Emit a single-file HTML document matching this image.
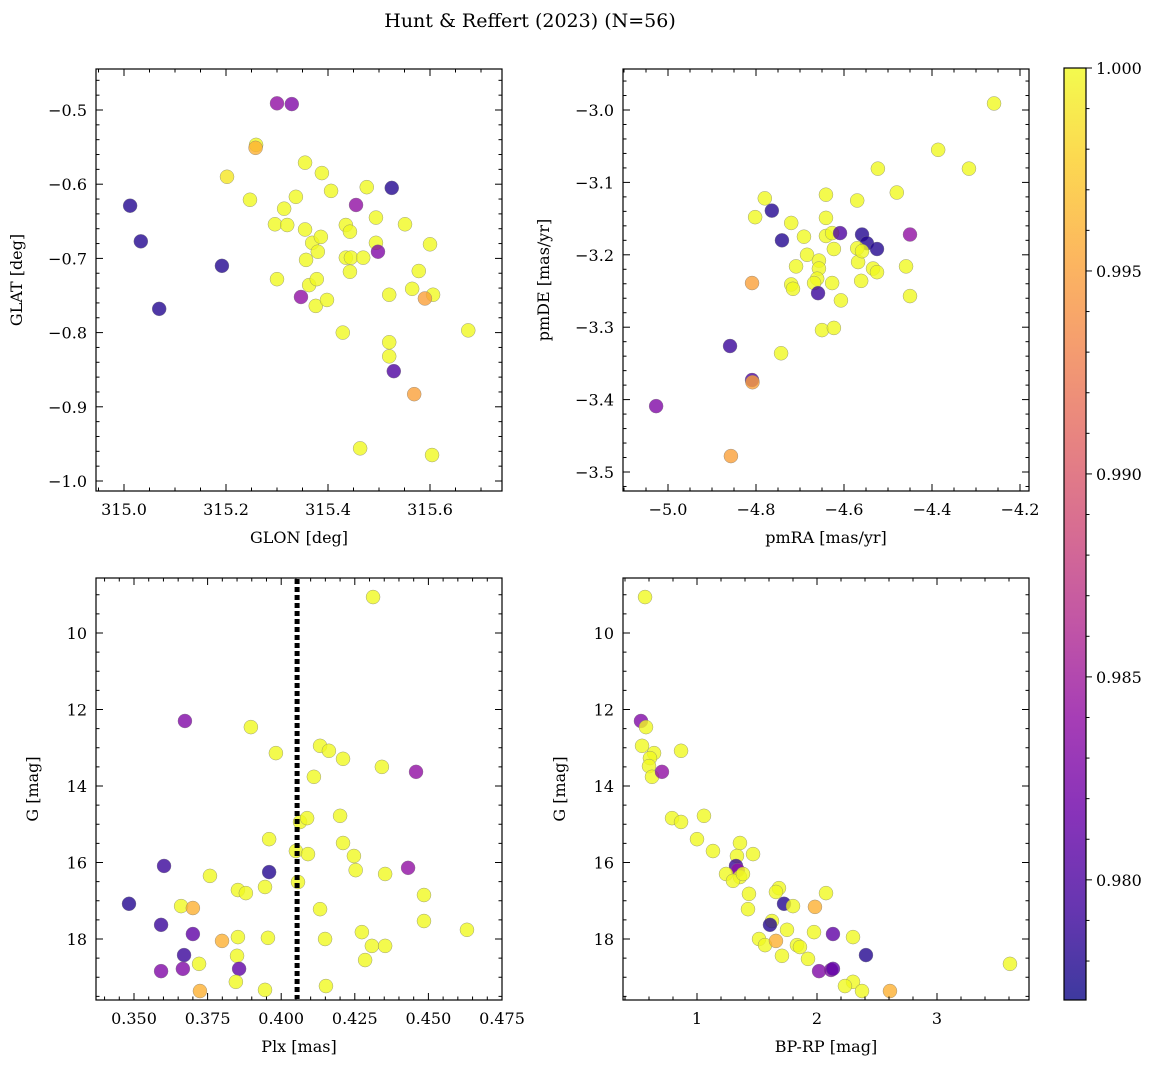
<!DOCTYPE html>
<html><head><meta charset="utf-8">
<style>
html,body{margin:0;padding:0;background:#fff;}
svg{display:block;font-family:"DejaVu Serif","Liberation Serif",serif;}
</style></head>
<body>
<svg id="fig" width="1161" height="1068" viewBox="0 0 1161 1068" xmlns="http://www.w3.org/2000/svg">
<defs>
<linearGradient id="plasma" x1="0" y1="1" x2="0" y2="0">
<stop offset="0" stop-color="#0d0887"/><stop offset="0.1" stop-color="#41049d"/><stop offset="0.2" stop-color="#6a00a8"/><stop offset="0.3" stop-color="#8f0da4"/><stop offset="0.4" stop-color="#b12a90"/><stop offset="0.5" stop-color="#cc4778"/><stop offset="0.6" stop-color="#e16462"/><stop offset="0.7" stop-color="#f2844b"/><stop offset="0.8" stop-color="#fca636"/><stop offset="0.9" stop-color="#fcce25"/><stop offset="1" stop-color="#f0f921"/>
</linearGradient>
</defs>
<text x="530" y="27" text-anchor="middle" font-size="19">Hunt &amp; Reffert (2023) (N=56)</text>
</svg>
<script>
// ---- Panel 1: GLON vs GLAT ----
const p1x=[315.300,315.329,315.259,315.258,315.202,315.012,315.033,315.069,315.192,315.355,315.388,315.406,315.247,315.314,315.337,315.296,315.320,315.355,315.369,315.386,315.357,315.380,315.300,315.363,315.378,315.376,315.398,315.429,315.435,315.443,315.435,315.445,315.443,315.469,315.455,315.476,315.525,315.494,315.494,315.498,315.551,315.578,315.600,315.565,315.520,315.606,315.590,315.347,315.520,315.520,315.529,315.569,315.463,315.604,315.675];
const p1y=[-0.491,-0.492,-0.547,-0.551,-0.590,-0.629,-0.677,-0.768,-0.710,-0.571,-0.585,-0.609,-0.621,-0.633,-0.617,-0.654,-0.655,-0.661,-0.679,-0.671,-0.702,-0.691,-0.728,-0.736,-0.728,-0.764,-0.756,-0.800,-0.655,-0.664,-0.699,-0.699,-0.718,-0.699,-0.628,-0.604,-0.605,-0.645,-0.679,-0.691,-0.654,-0.717,-0.681,-0.741,-0.749,-0.749,-0.754,-0.752,-0.813,-0.832,-0.852,-0.883,-0.956,-0.965,-0.797];
const p1c=[0.984,0.983,1,0.996,0.999,0.978,0.978,0.978,0.978,1,1,1,1,1,1,1,1,1,1,1,1,1,1,1,1,1,1,1,1,1,1,1,1,1,0.984,1,0.978,1,1,0.983,1,1,1,1,1,1,0.995,0.984,1,1,0.980,0.995,1,1,1];
// ---- Panel 2: pmRA vs pmDE ----
const p2x=[-4.259,-4.386,-4.316,-4.523,-4.480,-4.780,-4.764,-4.570,-4.641,-4.720,-4.691,-4.741,-4.641,-4.641,-4.627,-4.623,-4.609,-4.559,-4.548,-4.525,-4.450,-4.570,-4.568,-4.559,-4.561,-4.534,-4.525,-4.459,-4.450,-4.684,-4.709,-4.657,-4.657,-4.661,-4.668,-4.659,-4.627,-4.607,-4.650,-4.623,-4.802,-4.809,-4.720,-4.716,-4.809,-4.808,-4.743,-4.859,-4.857,-5.027];
const p2y=[-2.991,-3.055,-3.081,-3.081,-3.114,-3.122,-3.139,-3.125,-3.117,-3.156,-3.175,-3.180,-3.149,-3.174,-3.170,-3.192,-3.170,-3.172,-3.184,-3.192,-3.172,-3.191,-3.210,-3.195,-3.236,-3.219,-3.224,-3.216,-3.257,-3.200,-3.216,-3.208,-3.219,-3.233,-3.239,-3.253,-3.239,-3.263,-3.304,-3.301,-3.148,-3.239,-3.241,-3.247,-3.373,-3.376,-3.336,-3.326,-3.478,-3.409];
const p2c=[1,1,1,1,1,1,0.978,1,1,1,1,0.978,1,1,1,1,0.980,0.978,0.978,0.978,0.984,1,1,1,1,1,1,1,1,1,1,1,1,1,1,0.979,1,1,1,1,1,0.995,1,1,0.980,0.995,1,0.979,0.995,0.983];
// ---- Panel 3: Plx vs G ----
const p3x=[0.4312,0.3673,0.3897,0.3982,0.4132,0.4162,0.4210,0.4111,0.4342,0.4458,0.4064,0.4088,0.4200,0.4210,0.3959,0.4050,0.4091,0.4247,0.4253,0.4353,0.4431,0.4485,0.4485,0.4631,0.3602,0.3959,0.4057,0.3758,0.3853,0.3880,0.3945,0.3660,0.3700,0.3483,0.4132,0.3592,0.3700,0.3853,0.3799,0.3955,0.4149,0.4274,0.4308,0.4353,0.3670,0.3850,0.4285,0.3721,0.3592,0.3666,0.3857,0.3846,0.3724,0.3945,0.4152];
const p3y=[9.06,12.30,12.46,13.14,12.95,13.08,13.29,13.76,13.50,13.63,14.94,14.84,14.78,15.49,15.39,15.70,15.78,15.83,16.20,16.30,16.14,16.85,17.53,17.76,16.09,16.25,16.51,16.35,16.72,16.80,16.64,17.14,17.19,17.08,17.22,17.63,17.87,17.95,18.05,17.97,18.00,17.82,18.18,18.18,18.42,18.44,18.55,18.65,18.84,18.78,18.78,19.12,19.36,19.33,19.23];
const p3c=[1,0.983,1,1,1,1,1,1,1,0.984,1,1,1,1,1,1,1,1,1,1,0.984,1,1,1,0.979,0.978,1,1,1,1,1,1,0.996,0.978,1,0.979,0.981,1,0.996,1,1,1,1,1,0.979,1,1,1,0.983,0.983,0.981,1,0.996,1,1];
const plxLine=0.4054;
// ---- Panel 4: BP-RP vs G ----
const p4x=[0.567,0.533,0.575,0.542,0.642,0.608,0.600,0.625,0.708,0.867,0.792,0.867,1.058,1.000,1.133,1.358,1.467,1.333,1.325,1.340,1.358,1.242,1.300,1.383,1.433,1.683,1.658,1.425,1.725,1.800,1.983,2.075,1.625,1.608,1.750,1.975,2.133,2.300,1.517,1.567,1.658,1.833,1.858,1.925,1.708,2.408,3.608,2.017,2.117,2.133,2.300,2.233,2.375,2.608];
const p4y=[9.06,12.30,12.46,12.95,13.14,13.27,13.48,13.76,13.63,13.08,14.84,14.94,14.78,15.39,15.70,15.49,15.78,15.83,16.09,16.20,16.38,16.30,16.48,16.30,16.82,16.67,16.77,17.22,17.08,17.14,17.16,16.80,17.53,17.63,17.76,17.82,17.87,17.95,18.00,18.16,18.05,18.16,18.21,18.52,18.44,18.42,18.65,18.84,18.81,18.78,19.12,19.23,19.36,19.36];
const p4c=[1,0.983,1,1,1,1,1,1,0.984,1,1,1,1,1,1,1,1,1,0.979,0.984,1,1,1,1,1,1,1,1,0.978,1,0.996,1,1,0.978,1,1,0.981,1,1,1,0.996,1,1,1,1,0.978,1,0.983,0.983,0.981,1,1,1,0.996];
// ---- Colorbar ----
const cbTicks=[0.980,0.985,0.990,0.995,1.000];
const cbMin=0.97704, cbMax=1.0;

const NS="http://www.w3.org/2000/svg";
const svg=document.getElementById('fig');
function el(tag,attrs,parent){const e=document.createElementNS(NS,tag);for(const k in attrs)e.setAttribute(k,attrs[k]);(parent||svg).appendChild(e);return e;}
const stops=[[13,8,135],[65,4,157],[106,0,168],[143,13,164],[177,42,144],[204,71,120],[225,100,98],[242,132,75],[252,166,54],[252,206,37],[240,249,33]];
function plasma(v){let t=(v-cbMin)/(cbMax-cbMin);t=Math.max(0,Math.min(1,t))*10;const i=Math.min(9,Math.floor(t));const f=t-i;const a=stops[i],b=stops[i+1];return 'rgb('+a.map((c,j)=>Math.round(c+(b[j]-c)*f)).join(',')+')';}
function fmt(v,d){return (v<0?'\u2212':'')+Math.abs(v).toFixed(d);}

function panel(name,box,xd,yd,xMaj,xMin,yMaj,yMin,xdec,ydec,xlab,ylab,xs,ys,cs,invY){
  const [L,T,R,B]=box;
  const sx=v=>L+(v-xd[0])/(xd[1]-xd[0])*(R-L);
  const sy=invY?(v=>T+(v-yd[0])/(yd[1]-yd[0])*(B-T)):(v=>B-(v-yd[0])/(yd[1]-yd[0])*(B-T));
  const g=el('g',{});
  
  
  const pts=el('g',{},g);
  
  
  for(let i=0;i<xs.length;i++){
    const c=el('circle',{cx:sx(xs[i]),cy:sy(ys[i]),r:7,fill:plasma(cs[i]),'fill-opacity':0.8,stroke:'#777','stroke-width':0.5,'stroke-opacity':0.7},pts);
    
    
  }
  const fr=el('rect',{x:L,y:T,width:R-L,height:B-T,fill:'none',stroke:'#000','stroke-width':1.2},g);
  
  
  const eps=1e-9;
  const x0=Math.ceil((xd[0]-eps)/xMin)*xMin;
  for(let v=x0;v<=xd[1]+eps;v+=xMin){
    const px=sx(v);const maj=Math.abs(v/xMaj-Math.round(v/xMaj))<1e-6;const len=maj?7:3.5;
    el('line',{x1:px,x2:px,y1:B,y2:B-len,stroke:'#000','stroke-width':1},g);
    el('line',{x1:px,x2:px,y1:T,y2:T+len,stroke:'#000','stroke-width':1},g);
    if(maj){const t=el('text',{x:px,y:B+24,'text-anchor':'middle','font-size':16},g);t.textContent=fmt(v,xdec);
      }
  }
  const lo=Math.min(yd[0],yd[1]),hi=Math.max(yd[0],yd[1]);
  const y0=Math.ceil((lo-eps)/yMin)*yMin;
  for(let v=y0;v<=hi+eps;v+=yMin){
    const py=sy(v);const maj=Math.abs(v/yMaj-Math.round(v/yMaj))<1e-6;const len=maj?7:3.5;
    el('line',{x1:L,x2:L+len,y1:py,y2:py,stroke:'#000','stroke-width':1},g);
    el('line',{x1:R,x2:R-len,y1:py,y2:py,stroke:'#000','stroke-width':1},g);
    if(maj){const t=el('text',{x:L-9,y:py+6,'text-anchor':'end','font-size':16},g);t.textContent=fmt(v,ydec);
      }
  }
  const xl=el('text',{x:(L+R)/2,y:B+52,'text-anchor':'middle','font-size':16},g);xl.textContent=xlab;
  
  const yx=ylab.startsWith('G ')?L-58:L-74;
  const yl=el('text',{x:yx,y:(T+B)/2,'text-anchor':'middle','font-size':16,transform:'rotate(-90 '+yx+' '+(T+B)/2+')'},g);yl.textContent=ylab;
  
  return {sx,sy,g};
}
panel('glon-glat',[96,69,502,491],[315.0-28/510,315.0+378/510],[-0.5-(491-110)/742,-0.5+(110-69)/742],0.2,0.05,0.1,0.02,1,1,'GLON [deg]','GLAT [deg]',p1x,p1y,p1c,false);
panel('pm',[623,69,1029,491],[-5.0-45/440,-5.0+361/440],[-3.0-381/724,-3.0+41/724],0.2,0.05,0.1,0.02,1,1,'pmRA [mas/yr]','pmDE [mas/yr]',p2x,p2y,p2c,false);
const P3=panel('plx-g',[96,578,502,1000],[0.35-38/2944,0.35+368/2944],[10-55/38.25,10+367/38.25],0.025,0.005,2,0.5,3,0,'Plx [mas]','G [mag]',p3x,p3y,p3c,true);
const dl=el('line',{x1:P3.sx(plxLine),x2:P3.sx(plxLine),y1:579,y2:999,stroke:'#000','stroke-width':5,'stroke-dasharray':'5,3'},P3.g);


panel('cmd',[623,578,1029,1000],[1-74/120,1+332/120],[10-55/38.25,10+367/38.25],1,0.2,2,0.5,0,0,'BP-RP [mag]','G [mag]',p4x,p4y,p4c,true);

const cb=el('g',{});


el('rect',{x:1064,y:68,width:22,height:932,fill:'url(#plasma)','fill-opacity':0.8},cb);
el('rect',{x:1064,y:68,width:22,height:932,fill:'none',stroke:'#000','stroke-width':1.2},cb);
const cy=v=>1000-(v-cbMin)/(cbMax-cbMin)*932;
for(let v=0.978;v<=1.00001;v+=0.001){
  const maj=Math.abs(v*200-Math.round(v*200))<1e-4;
  el('line',{x1:1086,x2:1086+(maj?6:3.5),y1:cy(v),y2:cy(v),stroke:'#000','stroke-width':1},cb);
}
for(let i=0;i<cbTicks.length;i++){
  const t=el('text',{x:1096,y:cy(cbTicks[i])+6,'font-size':16},cb);t.textContent=cbTicks[i].toFixed(3);
  
  
}
</script>
</body></html>
